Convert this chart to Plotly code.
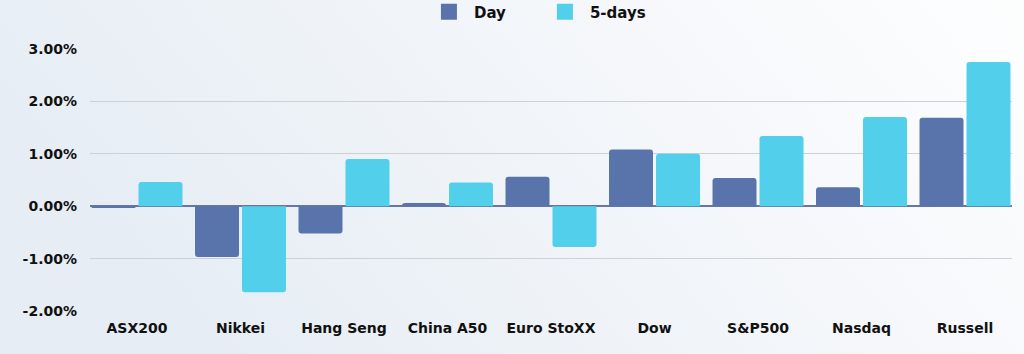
import plotly.graph_objects as go

categories = ["ASX200", "Nikkei", "Hang Seng", "China A50", "Euro StoXX", "Dow", "S&P500", "Nasdaq", "Russell"]
day = [-0.03, -0.97, -0.52, 0.06, 0.56, 1.08, 0.54, 0.36, 1.69]
five_days = [0.46, -1.64, 0.90, 0.45, -0.78, 1.00, 1.34, 1.70, 2.75]
tick_vals = [-2, -1, 0, 1, 2, 3]
tick_text = ["-2.00%", "-1.00%", "0.00%", "1.00%", "2.00%", "3.00%"]

day_color = "#5874AA"
five_color = "#52CFEA"
font_family = "'DejaVu Sans', sans-serif"

bg_svg = (
    "data:image/svg+xml;utf8,"
    "<svg xmlns='http://www.w3.org/2000/svg' width='1024' height='354'>"
    "<defs><linearGradient id='g' x1='0' y1='0.3' x2='1' y2='0'>"
    "<stop offset='0' stop-color='%23E6EDF4'/>"
    "<stop offset='0.6' stop-color='%23F6F8FB'/>"
    "<stop offset='1' stop-color='%23FFFFFF'/>"
    "</linearGradient></defs>"
    "<rect width='1024' height='354' fill='url(%23g)'/></svg>"
)

fig = go.Figure()
fig.add_trace(go.Bar(name="Day", x=categories, y=day, showlegend=False, legendgroup="d",
                     marker=dict(color=day_color, cornerradius=3, line=dict(width=0))))
fig.add_trace(go.Bar(name="5-days", x=categories, y=five_days, showlegend=False, legendgroup="f",
                     marker=dict(color=five_color, cornerradius=3, line=dict(width=0))))
# legend-only entries with larger square swatches
fig.add_trace(go.Scatter(name="Day", x=[None], y=[None], mode="markers", legendgroup="d",
                         marker=dict(symbol="square", size=16, color=day_color)))
fig.add_trace(go.Scatter(name="5-days", x=[None], y=[None], mode="markers", legendgroup="f",
                         marker=dict(symbol="square", size=16, color=five_color)))

fig.update_layout(
    width=1024, height=354,
    margin=dict(l=90, r=12, t=49, b=43, autoexpand=False),
    paper_bgcolor="#F3F6FA",
    plot_bgcolor="rgba(0,0,0,0)",
    barmode="group",
    bargap=0.092,
    bargroupgap=0.064,
    font=dict(family=font_family, color="#111111"),
    images=[dict(source=bg_svg, xref="paper", yref="paper", x=-0.1, y=1.25,
                 sizex=1.2, sizey=1.45, sizing="stretch", layer="below",
                 xanchor="left", yanchor="top")],
    legend=dict(orientation="h", x=0.488, xanchor="center", y=1.141, yanchor="middle",
                font=dict(size=15, weight="bold", color="#111111"),
                bgcolor="rgba(0,0,0,0)", itemwidth=40, entrywidth=61,
                itemsizing="trace"),
    showlegend=True,
)
fig.update_xaxes(
    range=[-0.454, 8.454],
    showgrid=False, showline=False, ticks="",
    tickfont=dict(size=14, weight="bold", color="#111111"),
    ticklabelstandoff=7,
)
fig.update_yaxes(
    range=[-2, 3], tickvals=tick_vals, ticktext=tick_text,
    showgrid=True, gridcolor="#CDD0D4", gridwidth=1.3,
    zeroline=True, zerolinecolor="#6677A0", zerolinewidth=2,
    tickfont=dict(size=14, weight="bold", color="#111111"),
    ticks="", ticklabelstandoff=12,
)

fig.write_html("out.html")
